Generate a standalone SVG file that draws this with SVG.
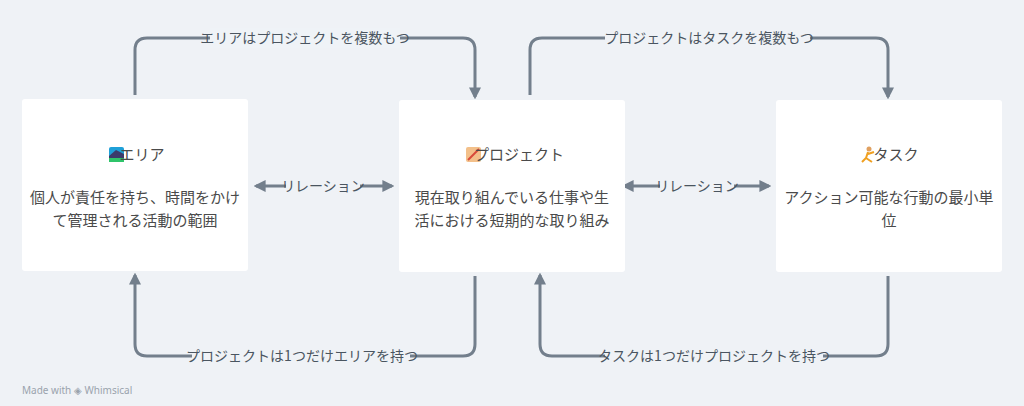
<svg xmlns="http://www.w3.org/2000/svg" width="1024" height="406" viewBox="0 0 1024 406">
<style>
.n{fill:#fff}
.t{font-family:"Noto Sans CJK JP","Noto Sans",sans-serif;font-size:15px;fill:#4a4a4a;text-anchor:middle}
.l{font-family:"Noto Sans CJK JP","Noto Sans",sans-serif;font-size:14px;fill:#4a5560;text-anchor:middle}
.c{fill:none;stroke:#737f8c;stroke-width:3}
.bg{fill:#eff3f7}
</style>
<defs>
<marker id="a" viewBox="0 0 10 10" refX="8" refY="5" markerWidth="4" markerHeight="4" orient="auto-start-reverse"><path d="M0,0L10,5L0,10z" fill="#737f8c"/></marker>
</defs>
<rect width="1024" height="406" fill="#eff2f6"/>
<g id="connectors">
<path class="c" d="M135,95V50Q135,38 147,38H463Q475,38 475,50V97" marker-end="url(#a)"/>
<rect class="bg" x="210" y="28" width="190" height="20" fill="#eff2f6"/>
<text class="l" x="305" y="43">エリアはプロジェクトを複数もつ</text>
<path class="c" d="M530,95V50Q530,38 542,38H876Q888,38 888,50V97" marker-end="url(#a)"/>
<rect x="605" y="28" width="205" height="20" fill="#eff2f6"/>
<text class="l" x="709" y="43">プロジェクトはタスクを複数もつ</text>
<path class="c" d="M475,276V344Q475,356 463,356H147Q135,356 135,344V275" marker-end="url(#a)"/>
<rect x="192" y="346" width="218" height="20" fill="#eff2f6"/>
<text class="l" x="302" y="361">プロジェクトは1つだけエリアを持つ</text>
<path class="c" d="M888,276V344Q888,356 876,356H552Q540,356 540,344V275" marker-end="url(#a)"/>
<rect x="605" y="346" width="218" height="20" fill="#eff2f6"/>
<text class="l" x="714" y="361">タスクは1つだけプロジェクトを持つ</text>
<path class="c" d="M256,186H392" marker-start="url(#a)" marker-end="url(#a)"/>
<rect x="286" y="176" width="74" height="20" fill="#eff2f6"/>
<text class="l" x="323" y="191">リレーション</text>
<path class="c" d="M624,186H769" marker-start="url(#a)" marker-end="url(#a)"/>
<rect x="660" y="176" width="74" height="20" fill="#eff2f6"/>
<text class="l" x="697" y="191">リレーション</text>
</g>
<g id="area">
<rect class="n" x="22" y="99" width="226" height="172" rx="3"/>
<rect x="109" y="147" width="15" height="15" rx="2" fill="#1fa0d8"/><path d="M109,156L116,150L124,154V158H109z" fill="#3b3b6b"/><rect x="109" y="158" width="15" height="4" fill="#2fc46a"/>
<text class="t" x="142" y="160">エリア</text>
<text class="t" x="135" y="203">個人が責任を持ち、時間をかけ</text>
<text class="t" x="135" y="226">て管理される活動の範囲</text>
</g>
<g id="project">
<rect class="n" x="399" y="100" width="226" height="172" rx="3"/>
<rect x="466" y="147" width="15" height="15" rx="2" fill="#f3c08a"/><path d="M468,160L479,149" stroke="#d84a3a" stroke-width="2"/>
<text class="t" x="519" y="160">プロジェクト</text>
<text class="t" x="512" y="203">現在取り組んでいる仕事や生</text>
<text class="t" x="512" y="226">活における短期的な取り組み</text>
</g>
<g id="task">
<rect class="n" x="776" y="100" width="226" height="172" rx="3"/>
<circle cx="869" cy="149" r="2.5" fill="#e0a060"/><path d="M868,152L866,158L862,162M866,158L872,162M868,154L874,152" stroke="#f0a020" stroke-width="2" fill="none"/>
<text class="t" x="896" y="160">タスク</text>
<text class="t" x="889" y="203">アクション可能な行動の最小単</text>
<text class="t" x="889" y="226">位</text>
</g>
<text x="22" y="394" font-family="Noto Sans,sans-serif" font-size="10" fill="#9aa3ad">Made with ◈ Whimsical</text>
</svg>
